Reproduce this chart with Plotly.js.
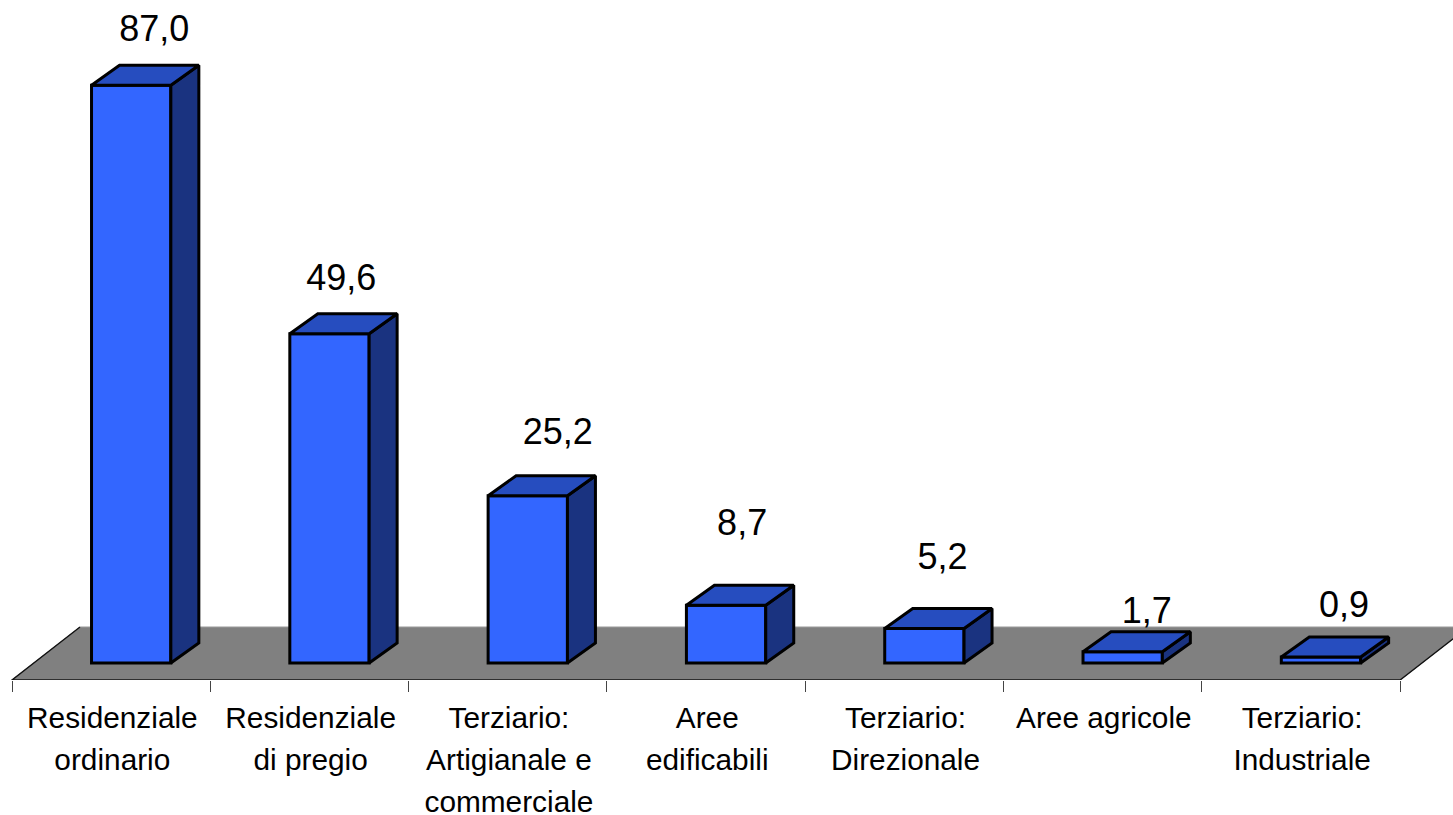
<!DOCTYPE html>
<html>
<head>
<meta charset="utf-8">
<script src="https://cdn.plot.ly/plotly-3.0.1.min.js"></script>
<style>html,body{margin:0;padding:0;background:#fff;overflow:hidden}#chart{width:1453px;height:815px}</style>
</head>
<body>
<div id="chart"></div>
<script>
// ---- data ----
const labelLine1 = ['Residenziale', 'Residenziale', 'Terziario:', 'Aree', 'Terziario:', 'Aree agricole', 'Terziario:'];
const labelLine2 = ['ordinario', 'di pregio', 'Artigianale e', 'edificabili', 'Direzionale', '', 'Industriale'];
const labelLine3 = ['', '', 'commerciale', '', '', '', ''];
const values = [87.0, 49.6, 25.2, 8.7, 5.2, 1.7, 0.9];
const valueText = ['87,0', '49,6', '25,2', '8,7', '5,2', '1,7', '0,9'];

// ---- pseudo-3D geometry, in axis units ----
const pxPerCat = 198.3, pxPerUnit = 6.64;
const xRange = [-0.5 - 12 / pxPerCat, -0.5 + 1441 / pxPerCat];
const yRange = [-17 / pxPerUnit, 663 / pxPerUnit];
const depthX = 28 / pxPerCat, depthY = 20 / pxPerUnit;
const barShift = 0.101, barWidth = 0.4;
const floorDepthX = 68 / pxPerCat, floorDepthY = 53 / pxPerUnit;
const labelDx = [0.116, 0.06, 0.151, 0.081, 0.091, 0.121, 0.116];
const labelDy = [8.1, 7.95, 9.2, 11.9, 10.3, 5.7, 7.4];

const idx = values.map((_, i) => i);
const centres = idx.map(i => i + barShift);
const edges = [...idx.map(i => i - 0.5), 6.5];
const FONT = 'Liberation Sans, Arial, sans-serif';

const topX = [], topY = [], sideX = [], sideY = [];
values.forEach((v, i) => {
  const l = centres[i] - barWidth / 2, r = centres[i] + barWidth / 2;
  topX.push(l, l + depthX, r + depthX, r, l, null);
  topY.push(v, v + depthY, v + depthY, v, v, null);
  sideX.push(r, r + depthX, r + depthX, r, r, null);
  sideY.push(v, v + depthY, depthY, 0, v, null);
});

const outline = {color: '#000', width: 3};
const data = [
  {type: 'bar', x: centres, y: values, width: barWidth,
   marker: {color: '#3366FF', line: outline}, hoverinfo: 'y'},
  {type: 'scatter', mode: 'lines', x: sideX, y: sideY, fill: 'toself', fillcolor: '#1A3380',
   line: outline, hoverinfo: 'skip'},
  {type: 'scatter', mode: 'lines', x: topX, y: topY, fill: 'toself', fillcolor: '#264DBF',
   line: outline, hoverinfo: 'skip'},
  {type: 'scatter', mode: 'text', x: centres.map((c, i) => c + labelDx[i]),
   y: values.map((v, i) => v + labelDy[i]), text: valueText, textposition: 'middle center',
   textfont: {family: FONT, size: 36, color: '#000'}, hoverinfo: 'skip', cliponaxis: false},
  // carriers for the overlaid tick-label and tick-mark axes
  {type: 'scatter', mode: 'none', x: [0], y: [0], xaxis: 'x2', hoverinfo: 'skip'},
  {type: 'scatter', mode: 'none', x: [0], y: [0], xaxis: 'x3', hoverinfo: 'skip'},
  {type: 'scatter', mode: 'none', x: [0], y: [0], xaxis: 'x4', hoverinfo: 'skip'}
];

function labelAxis(text, standoff, extra) {
  return Object.assign({
    range: xRange, type: 'linear', tickmode: 'array', tickvals: idx.map(i => i + 0.006), ticktext: text,
    ticks: '', showgrid: false, zeroline: false, showline: false, anchor: 'y', side: 'bottom',
    ticklabelstandoff: standoff, tickangle: 0,
    tickfont: {family: FONT, size: 29.8, color: '#000'}
  }, extra || {});
}

const floorY0 = yRange[0];
const layout = {
  width: 1453, height: 815, showlegend: false, barmode: 'overlay',
  margin: {l: 0, r: 0, t: 0, b: 135, pad: 0},
  paper_bgcolor: '#fff', plot_bgcolor: '#fff',
  xaxis: labelAxis(labelLine1, 17),
  xaxis2: labelAxis(labelLine2, 59, {overlaying: 'x'}),
  xaxis3: labelAxis(labelLine3, 101, {overlaying: 'x'}),
  xaxis4: {range: xRange, type: 'linear', overlaying: 'x', anchor: 'y', side: 'bottom',
    tickmode: 'array', tickvals: edges, showticklabels: false, ticks: 'outside', ticklen: 11,
    tickwidth: 1.2, tickcolor: '#444', showgrid: false, zeroline: false, showline: false},
  yaxis: {range: yRange, visible: false, fixedrange: true},
  shapes: [
    {type: 'path', layer: 'below', xref: 'x', yref: 'y',
     path: `M -0.5 ${floorY0} L ${-0.5 + floorDepthX} ${floorY0 + floorDepthY} L ${6.5 + floorDepthX} ${floorY0 + floorDepthY} L 6.5 ${floorY0} Z`,
     fillcolor: '#808080', line: {color: '#999', width: 1}},
    {type: 'path', layer: 'below', xref: 'x', yref: 'y',
     path: `M ${-0.5 + floorDepthX} ${floorY0 + floorDepthY} L -0.5 ${floorY0} L 6.5 ${floorY0} L ${6.5 + floorDepthX} ${floorY0 + floorDepthY}`,
     line: {color: '#111', width: 1.4}}
  ]
};
Plotly.newPlot('chart', data, layout, {displayModeBar: false, responsive: false});
</script>
</body>
</html>
